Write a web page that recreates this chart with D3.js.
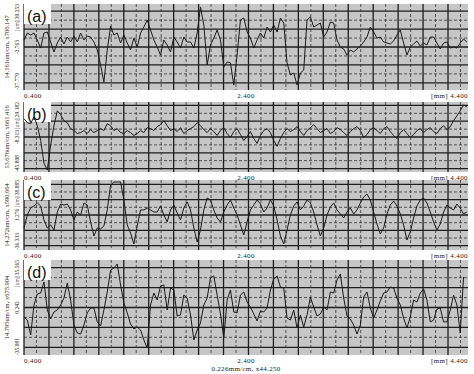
<!DOCTYPE html>
<html>
<head>
<meta charset="utf-8">
<script src="https://cdn.jsdelivr.net/npm/d3@7"></script>
<style>
  body { margin: 0; background: #fff; }
  svg { display: block; }
  text { font-family: "Liberation Serif", "DejaVu Serif", serif; fill: #222; }
</style>
</head>
<body>
<svg id="chart" width="474" height="374"></svg>
<script>
// sample positions along the profile, mm
const sampleMm = [
  0.40,0.43,0.46,0.49,0.52,0.55,0.58,0.61,0.64,0.67,
  0.70,0.73,0.76,0.79,0.82,0.85,0.88,0.91,0.94,0.97,
  1.00,1.03,1.06,1.09,1.12,1.15,1.18,1.21,1.24,1.27,
  1.30,1.33,1.36,1.39,1.42,1.45,1.48,1.51,1.54,1.57,
  1.60,1.63,1.66,1.69,1.72,1.75,1.78,1.81,1.84,1.87,
  1.90,1.93,1.96,1.99,2.02,2.05,2.08,2.11,2.14,2.17,
  2.20,2.23,2.26,2.29,2.32,2.35,2.38,2.41,2.44,2.47,
  2.50,2.53,2.56,2.59,2.62,2.65,2.68,2.71,2.74,2.77,
  2.80,2.83,2.86,2.89,2.92,2.95,2.98,3.01,3.04,3.07,
  3.10,3.13,3.16,3.19,3.22,3.25,3.28,3.31,3.34,3.37,
  3.40,3.43,3.46,3.49,3.52,3.55,3.58,3.61,3.64,3.67,
  3.70,3.73,3.76,3.79,3.82,3.85,3.88,3.91,3.94,3.97,
  4.00,4.03,4.06,4.09,4.12,4.15,4.18,4.21,4.24,4.27,
  4.30,4.33,4.36,4.39
];

// profile heights, um
const profileA = [
  1.8,7.3,5.7,7.3,1.8,-4.6,7.3,8.1,0.2,-7.7,
  -0.6,4.1,-1.4,4.1,0.2,4.9,0.2,7.3,1.8,4.9,
  4.1,0.2,-6.1,-18.0,-31.5,-6.1,12.8,5.7,7.3,-0.6,
  5.7,-0.6,-6.1,3.3,-3.8,7.3,12.0,17.6,9.7,1.8,
  -3.8,-10.1,1.8,-2.2,-7.7,4.1,0.2,-4.6,4.1,0.2,
  0.2,-4.6,7.3,27.9,13.6,-18.0,-2.2,3.3,9.7,1.8,
  -19.6,-15.6,-16.4,-33.8,-10.1,17.6,19.2,8.1,3.3,-4.6,
  1.8,7.3,3.3,12.0,8.1,13.6,8.1,19.2,15.2,-16.4,
  -25.9,-24.3,-33.8,-24.3,-22.0,17.6,20.0,12.0,13.6,15.2,
  4.1,8.1,16.0,15.2,1.8,-3.8,-5.3,-10.1,-6.1,-7.7,
  -5.3,-3.0,0.2,4.1,12.0,8.1,3.3,4.1,0.2,-0.6,
  -1.4,1.0,5.7,9.7,-0.6,-10.1,-3.8,-1.4,1.0,-3.0,
  -0.6,-2.2,4.1,4.1,-0.6,-5.3,-0.6,0.2,-4.6,-3.8,
  -4.6,-0.6,2.6,0.2
];
const profileB = [
  11.2,7.0,5.9,13.3,3.8,-12.0,-36.3,-43.7,-17.3,3.8,
  19.7,15.5,9.1,7.0,0.7,-1.4,-4.6,-3.6,-1.4,-4.6,
  -0.4,-3.6,-1.4,0.7,-1.4,5.9,3.8,-1.4,0.7,-3.6,
  -4.6,-1.4,-3.6,-6.7,-4.6,-1.4,-3.6,1.7,0.7,-1.4,
  2.8,4.9,9.1,3.8,-1.4,0.7,-2.5,1.7,-4.6,-1.4,
  0.7,2.8,7.0,3.8,-0.4,-3.6,0.7,-2.5,-6.7,-1.4,
  1.7,-4.6,-8.8,-2.5,0.7,-5.7,-12.0,-7.8,-2.5,-9.9,
  -15.2,-6.7,-1.4,0.7,-3.6,-12.0,-18.3,-9.9,-3.6,0.7,
  -2.5,-0.4,2.8,-2.5,-6.7,-1.4,1.7,4.9,0.7,-3.6,
  -1.4,0.7,-4.6,-2.5,1.7,-0.4,-3.6,-6.7,-2.5,0.7,
  2.8,-1.4,-8.8,-5.7,-0.4,1.7,-1.4,-4.6,0.7,2.8,
  -2.5,-6.7,-9.9,-3.6,-0.4,-4.6,-8.8,-5.7,-1.4,0.7,
  -3.6,-0.4,1.7,-2.5,-4.6,0.7,3.8,-0.4,2.8,9.1,
  14.4,19.7,26.0,23.9
];
const profileC = [
  -12.7,1.3,8.8,11.0,14.2,11.0,-4.1,-12.7,-9.4,-14.8,
  4.5,13.1,12.0,13.1,6.7,-4.1,4.5,1.3,14.2,12.0,
  -6.2,-21.3,-12.7,-13.7,-10.5,6.7,33.5,36.7,36.7,36.7,
  17.4,-9.4,-18.0,-29.9,-10.5,6.7,6.7,8.8,6.7,4.5,
  4.5,11.0,1.3,-6.2,6.7,12.0,3.4,-4.1,8.8,15.3,
  6.7,-12.7,-27.7,-14.8,6.7,19.5,17.4,6.7,-1.9,-6.2,
  4.5,12.0,17.4,8.8,1.3,-9.4,-20.2,-6.2,6.7,12.0,
  17.4,13.1,4.5,8.8,17.4,11.0,-4.1,-21.3,-29.9,-14.8,
  1.3,11.0,15.3,6.7,11.0,17.4,14.2,4.5,-9.4,-21.3,
  -12.7,1.3,9.9,14.2,6.7,2.4,-1.9,4.5,8.8,2.4,
  6.7,14.2,20.6,23.8,17.4,4.5,-8.4,-19.1,-12.7,2.4,
  12.0,16.3,11.0,2.4,-9.4,-25.6,-17.0,-1.9,11.0,17.4,
  19.5,14.2,4.5,-6.2,-14.8,-8.4,4.5,12.0,8.8,6.7,
  13.1,8.8,2.4,4.5
];
const profileD = [
  -6.8,-9.1,-20.2,2.1,10.3,11.0,19.2,-1.6,-8.3,-3.1,
  -1.6,2.1,7.3,18.5,5.8,-12.8,-18.7,-19.5,-12.8,-3.8,
  -0.1,-0.1,-10.5,-13.5,-1.6,11.8,28.1,29.6,32.6,17.0,
  3.6,-3.8,-12.0,-15.7,-14.3,-16.5,-23.9,-29.9,2.1,11.0,
  5.8,16.2,17.0,-1.6,14.7,13.3,-6.1,-5.3,9.5,7.3,
  -5.3,-23.9,-16.5,-11.3,2.1,7.3,22.2,23.7,9.5,-4.6,
  -22.4,5.8,13.3,-3.1,-3.8,9.5,11.8,4.3,0.6,-4.6,
  -9.8,-2.4,-3.1,-0.1,13.3,21.4,23.7,15.5,14.7,-7.6,
  -9.1,-1.6,-15.0,-5.3,-14.3,-5.3,8.1,0.6,-6.1,-4.6,
  0.6,-1.6,11.8,11.0,20.7,25.2,7.3,-6.1,-8.3,-12.8,
  -19.5,-12.8,8.1,11.8,-0.1,-7.6,-1.6,5.1,11.0,11.8,
  15.5,14.7,7.3,2.1,-7.6,-15.0,-6.8,5.8,4.3,11.0,
  14.0,5.8,-10.5,-9.1,-0.9,-0.1,-10.5,-10.5,-1.6,9.5,
  2.1,-18.7,22.9
];

const panelNames = ['(a)', '(b)', '(c)', '(d)'];
const scaleCaptions = ['14.161um/cm, x706.147', '13.676um/cm, x661.416', '14.272um/cm, x590.664', '14.795um/cm, x675.904'];
const yTop = [30.253, 29.182, 38.885, 35.565];
const yBottom = [-37.779, -45.808, -36.333, -35.081];
const yMidLabels = ['-3.763', '-8.313', '1.276', '0.242'];
// spacing of the solid horizontal rulings, um
const gridUm = [14.161, 16.9, 16.5, 14.795];
const xTickValues = [0.4, 2.4, 4.4];
const xTickLabels = ['0.400', '2.400', '[mm] 4.400'];
const mmPerCm = 0.2247;
const footer = '0.226mm/cm, x44.250';

// layout
const plotLeft = 24, plotRight = 468;
const panelTop = [4, 102, 180, 260];
const panelHeight = [86, 70, 70, 95];

const profiles = [profileA, profileB, profileC, profileD];
const panels = panelNames.map((name, i) => ({
  name,
  caption: scaleCaptions[i],
  top: yTop[i],
  bottom: yBottom[i],
  mid: yMidLabels[i],
  cm: gridUm[i],
  points: profiles[i].map((v, j) => [sampleMm[j], v]),
  y0: panelTop[i],
  h: panelHeight[i]
}));

const svg = d3.select('#chart');
const x = d3.scaleLinear().domain([0.4, 4.4]).range([plotLeft, plotRight]);

// vertical grid, every half cm of chart paper
const xGrid = d3.range(0, Math.floor((4.4 - 0.4) / (mmPerCm / 2)) + 1)
  .map((n) => ({ v: 0.4 + n * mmPerCm / 2, solid: n % 2 === 0 }));

panels.forEach((p) => {
  const y = d3.scaleLinear().domain([p.bottom, p.top]).range([p.y0 + p.h, p.y0]);
  const g = svg.append('g');
  const mid = (p.top + p.bottom) / 2;

  g.append('rect')
    .attr('x', plotLeft).attr('y', p.y0)
    .attr('width', plotRight - plotLeft).attr('height', p.h)
    .attr('fill', '#c6c6c6');

  // horizontal grid around the centre line
  const half = p.cm / 2;
  const nMax = Math.floor((p.top - mid) / half);
  const yGrid = d3.range(-nMax, nMax + 1).map((n) => ({ v: mid + n * half, solid: n % 2 === 0 }));

  g.append('g').selectAll('line')
    .data(yGrid)
    .join('line')
    .attr('x1', plotLeft).attr('x2', plotRight)
    .attr('y1', (d) => y(d.v)).attr('y2', (d) => y(d.v))
    .attr('stroke', (d) => (d.solid ? '#1e1e1e' : '#333'))
    .attr('stroke-width', (d) => (d.solid ? 1.3 : 0.8))
    .attr('stroke-dasharray', (d) => (d.solid ? null : '3 2'));

  g.append('g').selectAll('line')
    .data(xGrid)
    .join('line')
    .attr('x1', (d) => x(d.v)).attr('x2', (d) => x(d.v))
    .attr('y1', p.y0).attr('y2', p.y0 + p.h)
    .attr('stroke', (d) => (d.solid ? '#1e1e1e' : '#333'))
    .attr('stroke-width', (d) => (d.solid ? 1.3 : 0.8))
    .attr('stroke-dasharray', (d) => (d.solid ? null : '3 2'));

  // label box in the top-left corner
  g.append('rect')
    .attr('x', plotLeft).attr('y', p.y0)
    .attr('width', 27).attr('height', 20)
    .attr('fill', '#fff');
  g.append('text')
    .attr('x', plotLeft + 3).attr('y', p.y0 + 18)
    .style('font-family', '"Liberation Sans", Arial, sans-serif')
    .style('font-size', '16px')
    .style('fill', '#111')
    .text(p.name);

  g.append('path')
    .datum(p.points)
    .attr('fill', 'none')
    .attr('stroke', '#1a1a1a')
    .attr('stroke-width', 1)
    .attr('stroke-linejoin', 'round')
    .attr('d', d3.line().x((d) => x(d[0])).y((d) => y(d[1])));

  // rotated y labels
  const yLab = (txt, pos, anchor, cx, size) => g.append('text')
    .attr('transform', `translate(${cx},${pos}) rotate(-90)`)
    .attr('text-anchor', anchor)
    .style('font-size', size)
    .text(txt);
  yLab(p.caption, y(mid), 'middle', 9, '6.5px');
  yLab(`[um] ${p.top.toFixed(3)}`, y(p.top), 'end', 19, '5.5px');
  yLab(p.mid, y(mid), 'middle', 19, '5.5px');
  yLab(p.bottom.toFixed(3), y(p.bottom), 'start', 19, '5.5px');

  // x labels under each strip
  g.append('g').selectAll('text')
    .data(xTickValues)
    .join('text')
    .attr('x', (d) => x(d))
    .attr('y', p.y0 + p.h + 8)
    .attr('text-anchor', (d, i) => (i === 0 ? 'start' : i === 1 ? 'middle' : 'end'))
    .style('font-size', '7px')
    .style('letter-spacing', '0.4px')
    .text((d, i) => xTickLabels[i]);
});

svg.append('text')
  .attr('x', x(2.4)).attr('y', 371)
  .attr('text-anchor', 'middle')
  .style('font-size', '7px')
  .style('letter-spacing', '0.3px')
  .text(footer);
</script>
</body>
</html>
